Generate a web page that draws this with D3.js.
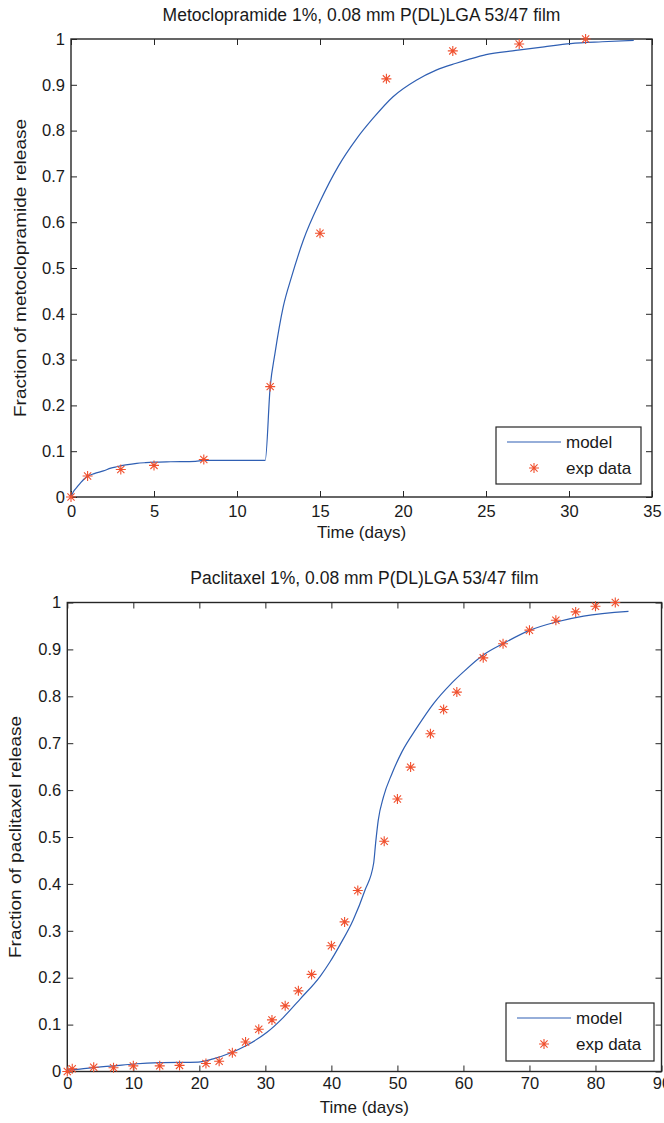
<!DOCTYPE html>
<html>
<head>
<meta charset="utf-8">
<script src="https://cdn.jsdelivr.net/npm/d3@7"></script>
<style>
  body { margin: 0; background: #fff; }
  svg { display: block; font-family: "Liberation Sans", Arial, Helvetica, sans-serif; }
</style>
</head>
<body>
<svg id="chart" width="664" height="1123"></svg>
<script>
// ---- data ----
// metoclopramide panel
var metoExpDays = [0, 1, 3, 5, 8, 12, 15, 19, 23, 27, 31]
var metoExpFrac = [0, 0.046, 0.060, 0.069, 0.082, 0.241, 0.576, 0.913, 0.974, 0.989, 1.0]
var metoModelDays = [0, 0.15, 0.35, 0.6, 0.95, 1.4, 1.95, 2.4, 2.75, 3.3, 3.96, 4.5, 5, 6, 7.5, 8, 11.7,
  12.0, 12.29, 12.79, 13.29, 14.0, 15.0, 16.1, 17.2, 18.2, 19.4, 20.8, 22.0, 23.2, 24.0, 25.0, 26.8,
  28.5, 30.1, 32.0, 33.9]
var metoModelFrac = [0, 0.012, 0.021, 0.032, 0.044, 0.051, 0.057, 0.063, 0.066, 0.070, 0.0735, 0.075,
  0.076, 0.077, 0.078, 0.080, 0.080, 0.241, 0.314, 0.416, 0.481, 0.561, 0.645, 0.722, 0.782, 0.827,
  0.874, 0.910, 0.932, 0.947, 0.956, 0.966, 0.975, 0.983, 0.990, 0.994, 0.997]
var metoXTicks = [0, 5, 10, 15, 20, 25, 30, 35]

// paclitaxel panel
var paclExpDays = [0, 0.75, 4, 7, 10, 14, 17, 21, 23, 25, 27, 29, 31, 33, 35, 37, 40, 42, 44, 48, 50,
  52, 55, 57, 59, 63, 66, 70, 74, 77, 80, 83]
var paclExpFrac = [0, 0.006, 0.009, 0.008, 0.012, 0.012, 0.013, 0.017, 0.022, 0.040, 0.063, 0.090,
  0.110, 0.140, 0.172, 0.207, 0.268, 0.319, 0.386, 0.491, 0.581, 0.649, 0.720, 0.772, 0.809, 0.882,
  0.912, 0.941, 0.962, 0.980, 0.992, 1.0]
var paclModelDays = [0, 1.9, 4.45, 7, 10, 14, 19.8, 22.1, 24.6, 27.2, 30.2, 32.7, 35.3, 38.3, 39.8,
  41.3, 43.3, 45.1, 46.4, 46.7, 47.1, 47.9, 49.2, 50.7, 52.9, 55.5, 58.0, 60.0, 63.0, 66.1, 70.1,
  74.2, 78.2, 85]
var paclModelFrac = [0.003, 0.005, 0.009, 0.012, 0.016, 0.019, 0.020, 0.027, 0.039, 0.056, 0.083,
  0.115, 0.155, 0.203, 0.234, 0.270, 0.323, 0.387, 0.444, 0.487, 0.536, 0.586, 0.636, 0.682, 0.732,
  0.785, 0.825, 0.852, 0.888, 0.913, 0.941, 0.959, 0.971, 0.981]
var paclXTicks = [0, 10, 20, 30, 40, 50, 60, 70, 80, 90]

var yTicks = [0, 0.1, 0.2, 0.3, 0.4, 0.5, 0.6, 0.7, 0.8, 0.9, 1]
var legendLabels = ['model', 'exp data']

var lineColor = '#2f5fb3'
var starColor = '#f0502e'
var axisColor = '#262626'

var svg = d3.select('#chart')

// matlab style '*' marker
var star = 'M-5,0H5M0,-5V5M-3.6,-3.6L3.6,3.6M-3.6,3.6L3.6,-3.6'

function drawPanel (p) {
  var x = d3.scaleLinear().domain(p.xDomain).range([p.left, p.right])
  var y = d3.scaleLinear().domain([0, 1]).range([p.bottom, p.top])
  var g = svg.append('g')

  // ticks, pointing inward on all four sides
  g.append('g')
    .attr('transform', 'translate(0,' + p.bottom + ')')
    .call(d3.axisBottom(x).tickValues(p.xTicks).tickSizeInner(-6).tickSizeOuter(0)
      .tickPadding(p.xPad).tickFormat(function (d) { return d }))
  g.append('g')
    .attr('transform', 'translate(0,' + p.top + ')')
    .call(d3.axisTop(x).tickValues(p.xTicks).tickSizeInner(-6).tickSizeOuter(0).tickFormat(''))
  g.append('g')
    .attr('transform', 'translate(' + p.left + ',0)')
    .call(d3.axisLeft(y).tickValues(yTicks).tickSizeInner(-6).tickSizeOuter(0)
      .tickPadding(p.yPad).tickFormat(function (d) { return d }))
  g.append('g')
    .attr('transform', 'translate(' + p.right + ',0)')
    .call(d3.axisRight(y).tickValues(yTicks).tickSizeInner(-6).tickSizeOuter(0).tickFormat(''))

  g.selectAll('.domain').remove()
  g.selectAll('.tick line').attr('stroke', axisColor).attr('stroke-width', 1)
  g.selectAll('.tick text').attr('fill', '#1a1a1a').style('font-size', '16.5px')
    .style('font-family', '"Liberation Sans", Arial, Helvetica, sans-serif')

  g.append('rect')
    .attr('x', p.left).attr('y', p.top)
    .attr('width', p.right - p.left).attr('height', p.bottom - p.top)
    .attr('fill', 'none').attr('stroke', axisColor).attr('stroke-width', 1.4)

  // model curve
  var line = d3.line()
    .x(function (d) { return x(d[0]) })
    .y(function (d) { return y(d[1]) })
    .curve(d3.curveMonotoneX)
  g.append('path')
    .datum(d3.zip(p.modelDays, p.modelFrac))
    .attr('d', line)
    .attr('fill', 'none')
    .attr('stroke', lineColor)
    .attr('stroke-width', 1.2)

  // experimental points
  g.append('g')
    .selectAll('path')
    .data(d3.zip(p.expDays, p.expFrac))
    .enter().append('path')
    .attr('transform', function (d) { return 'translate(' + x(d[0]) + ',' + y(d[1]) + ')' })
    .attr('d', star)
    .attr('fill', 'none')
    .attr('stroke', starColor)
    .attr('stroke-width', 1.1)

  // titles
  g.append('text')
    .attr('x', (p.left + p.right) / 2)
    .attr('y', p.titleY)
    .attr('text-anchor', 'middle')
    .style('font-size', '17.5px')
    .attr('fill', '#1a1a1a')
    .text(p.title)

  g.append('text')
    .attr('x', (p.left + p.right) / 2)
    .attr('y', p.xLabelY)
    .attr('text-anchor', 'middle')
    .style('font-size', '17px')
    .attr('fill', '#1a1a1a')
    .text('Time (days)')

  g.append('text')
    .attr('transform', 'translate(' + p.yLabelX + ',' + (p.top + p.bottom) / 2 + ') rotate(-90) scale(1.12,1)')
    .attr('text-anchor', 'middle')
    .style('font-size', '17px')
    .attr('fill', '#1a1a1a')
    .text(p.yLabel)

  // legend
  var lg = p.legend
  g.append('rect')
    .attr('x', lg.x).attr('y', lg.y).attr('width', lg.w).attr('height', lg.h)
    .attr('fill', '#fff').attr('stroke', axisColor).attr('stroke-width', 1.2)
  g.append('line')
    .attr('x1', lg.x + 11).attr('x2', lg.x + 65)
    .attr('y1', lg.y + 15).attr('y2', lg.y + 15)
    .attr('stroke', lineColor).attr('stroke-width', 1.2)
  g.append('path')
    .attr('transform', 'translate(' + (lg.x + 38) + ',' + (lg.y + 41) + ')')
    .attr('d', star)
    .attr('fill', 'none').attr('stroke', starColor).attr('stroke-width', 1.1)
  g.selectAll('.legtext')
    .data(legendLabels)
    .enter().append('text')
    .attr('x', lg.x + 70)
    .attr('y', function (d, i) { return lg.y + 21 + i * 26 })
    .style('font-size', '17px')
    .attr('fill', '#1a1a1a')
    .text(function (d) { return d })
}

drawPanel({
  left: 71, right: 652, top: 39, bottom: 497,
  xDomain: [0, 35], xTicks: metoXTicks, xPad: 8, yPad: 6,
  modelDays: metoModelDays, modelFrac: metoModelFrac,
  expDays: metoExpDays, expFrac: metoExpFrac,
  title: 'Metoclopramide 1%, 0.08 mm P(DL)LGA 53/47 film', titleY: 21,
  xLabelY: 538, yLabelX: 26,
  yLabel: 'Fraction of metoclopramide release',
  legend: { x: 496, y: 427, w: 145, h: 57 }
})

drawPanel({
  left: 67.3, right: 661.5, top: 602.5, bottom: 1071.5,
  xDomain: [0, 90], xTicks: paclXTicks, xPad: 6, yPad: 6,
  modelDays: paclModelDays, modelFrac: paclModelFrac,
  expDays: paclExpDays, expFrac: paclExpFrac,
  title: 'Paclitaxel 1%, 0.08 mm P(DL)LGA 53/47 film', titleY: 584,
  xLabelY: 1113, yLabelX: 21,
  yLabel: 'Fraction of paclitaxel release',
  legend: { x: 506, y: 1003, w: 148, h: 58 }
})
</script>
</body>
</html>
